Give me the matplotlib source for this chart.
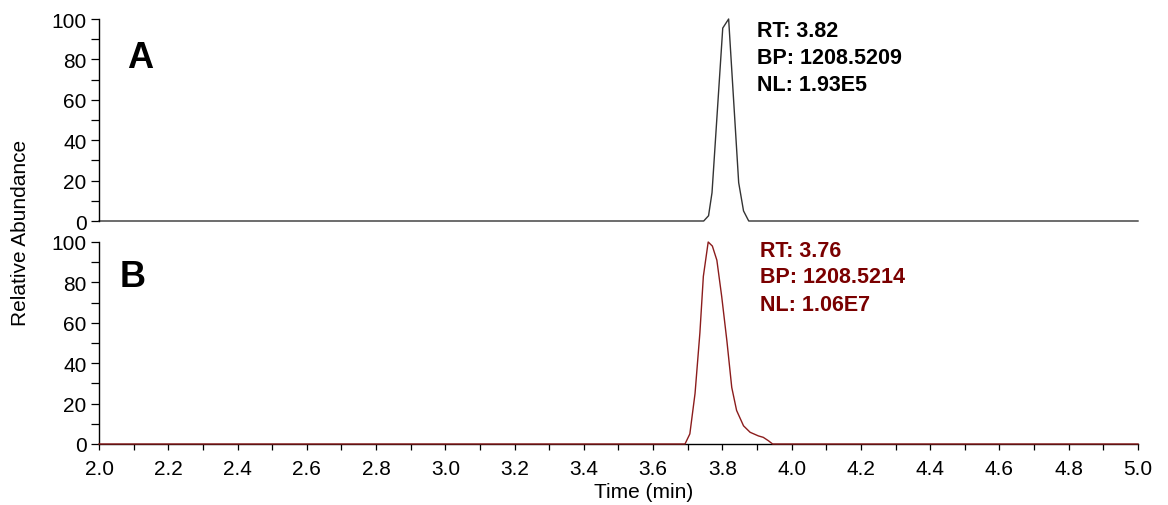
import numpy as np
import matplotlib
matplotlib.use("Agg")
import matplotlib.pyplot as plt
from matplotlib.ticker import MultipleLocator

plt.rcParams["font.family"] = ["Liberation Sans", "DejaVu Sans"]

# chromatogram A (black trace), time in min, relative abundance in %
time_a = [2.0, 3.746, 3.760, 3.770, 3.801, 3.818, 3.847, 3.861, 3.876, 5.0]
abund_a = [0, 0, 2.6, 14, 95.5, 100, 19, 5, 0, 0]
info_a = ["RT: 3.82", "BP: 1208.5209", "NL: 1.93E5"]

# chromatogram B (red trace)
time_b = [2.0, 3.692, 3.706, 3.721, 3.735, 3.745, 3.759, 3.771, 3.784, 3.798,
          3.813, 3.827, 3.841, 3.861, 3.880, 3.904, 3.918, 3.933, 3.945, 5.0]
abund_b = [0, 0, 5, 25, 55, 83, 100, 98, 91, 73,
           51, 28, 16.6, 9, 5.8, 4, 3.3, 1.6, 0, 0]
info_b = ["RT: 3.76", "BP: 1208.5214", "NL: 1.06E7"]

color_a = "#333333"
color_b = "#8b1c1c"
text_b = "#7a0000"

W, H = 1168, 506
fig = plt.figure(figsize=(W / 100, H / 100), dpi=100)
left, right = 99 / W, 1138 / W
ax_a = fig.add_axes([left, 1 - 222 / H, right - left, 202 / H])
ax_b = fig.add_axes([left, 1 - 445 / H, right - left, 202 / H])

ax_a.plot(time_a, abund_a, color=color_a, lw=1.0, clip_on=False)
ax_b.plot(time_b, abund_b, color=color_b, lw=1.0, clip_on=False, zorder=5)

for ax in (ax_a, ax_b):
    ax.set_xlim(2.0, 5.0)
    ax.set_ylim(0, 100)
    for s in ("top", "right"):
        ax.spines[s].set_visible(False)
    ax.spines["left"].set_linewidth(1.0)
    ax.yaxis.set_major_locator(MultipleLocator(20))
    ax.yaxis.set_minor_locator(MultipleLocator(10))
    ax.tick_params(axis="y", which="both", direction="out", length=6,
                   width=0.9, labelsize=15, pad=3)

ax_a.spines["bottom"].set_visible(False)
ax_a.set_xticks([])

ax_b.spines["bottom"].set_linewidth(1.0)
ax_b.xaxis.set_major_locator(MultipleLocator(0.2))
ax_b.xaxis.set_minor_locator(MultipleLocator(0.1))
ax_b.xaxis.set_major_formatter(lambda v, p: f"{v:.1f}")
ax_b.tick_params(axis="x", which="both", direction="out", length=4,
                 width=0.9, labelsize=15, pad=7)
ax_b.set_xlabel("Time (min)", fontsize=15)
ax_b.xaxis.set_label_coords(0.524, -0.19)

fig.text(21 / W, 1 - 233 / H, "Relative Abundance", rotation=90,
         fontsize=15, ha="center", va="center")

# panel letters
ax_a.text(0.027, 0.761, "A", transform=ax_a.transAxes, fontsize=26,
          fontweight="bold", va="baseline")
ax_b.text(0.020, 0.782, "B", transform=ax_b.transAxes, fontsize=26,
          fontweight="bold", va="baseline")

# peak info
for i, line in enumerate(info_a):
    ax_a.text(0.633, [0.917, 0.781, 0.650][i], line, transform=ax_a.transAxes,
              fontsize=15.5, fontweight="bold", color="black", va="baseline")
for i, line in enumerate(info_b):
    ax_b.text(0.636, [0.932, 0.800, 0.665][i], line, transform=ax_b.transAxes,
              fontsize=15.5, fontweight="bold", color=text_b, va="baseline")

fig.savefig("out.png", dpi=100)
